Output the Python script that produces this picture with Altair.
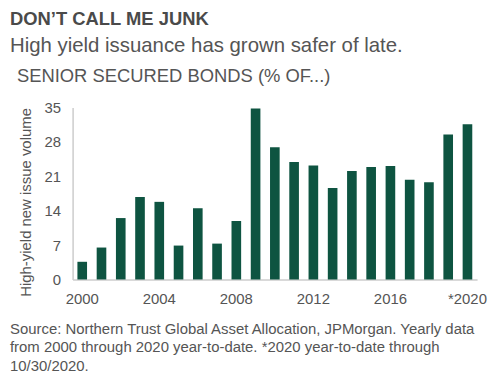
import altair as alt
import pandas as pd

years = [str(y) for y in range(2000, 2020)] + ["*2020"]
values = [3.6, 6.5, 12.5, 16.8, 15.8, 6.9, 14.5, 7.3, 11.9, 34.8, 26.9,
          23.9, 23.2, 18.6, 22.1, 22.9, 23.1, 20.3, 19.8, 29.5, 31.6]
tick_years = ["2000", "2004", "2008", "2012", "2016", "*2020"]
y_ticks = [0, 7, 14, 21, 28, 35]

title = "DON\u2019T CALL ME JUNK"
subtitle = "High yield issuance has grown safer of late."
section = "SENIOR SECURED BONDS (% OF...)"
footer = ["Source: Northern Trust Global Asset Allocation, JPMorgan. Yearly data",
          "from 2000 through 2020 year-to-date. *2020 year-to-date through",
          "10/30/2020."]

FONT = "Liberation Sans"
GRAY = "#555555"

df = pd.DataFrame({"year": years, "value": values})

bars = alt.Chart(df).mark_bar(color="#0e5441").encode(
    x=alt.X("year:N", sort=years,
            scale=alt.Scale(paddingInner=0.5, paddingOuter=0.25),
            axis=alt.Axis(values=tick_years, title=None, labelAngle=0,
                          labelFont=FONT, labelFontSize=15, labelColor=GRAY,
                          labelPadding=12, ticks=False, domainColor="#cccccc",
                          domainWidth=1.5)),
    y=alt.Y("value:Q", scale=alt.Scale(domain=[0, 35], nice=False),
            axis=alt.Axis(values=y_ticks, title="High-yield new issue volume",
                          grid=False, ticks=False, labelFont=FONT,
                          labelFontSize=15, labelColor=GRAY, labelPadding=12,
                          domainColor="#cccccc", domainWidth=1.5,
                          titleFont=FONT, titleFontSize=15, titleFontWeight="normal",
                          titleColor=GRAY, titleAngle=270, titleX=-47, titleY=95,
                          titleAlign="center", titleBaseline="middle")),
)

def txt(s, x, y, size, weight="normal", color=GRAY):
    return alt.Chart(pd.DataFrame({"t": [s]})).mark_text(
        align="left", baseline="alphabetic", font=FONT, fontSize=size,
        fontWeight=weight, color=color
    ).encode(text="t:N", x=alt.value(x), y=alt.value(y))

layers = [bars,
          txt(title, -63, -83, 18.5, "bold", "#4a4a4a"),
          txt(subtitle, -63, -55.5, 20.5),
          txt(section, -56, -25.3, 18.5)]
for i, line in enumerate(footer):
    layers.append(txt(line, -63, 227.5 + i * 18.7, 15))

chart = alt.layer(*layers).properties(
    width=407, height=173,
    autosize=alt.AutoSizeParams(type="none"),
    padding={"left": 65, "top": 99, "right": 15, "bottom": 100},
).configure_view(stroke=None)

chart.save("out.html", embed_options={"renderer": "svg", "actions": False})
